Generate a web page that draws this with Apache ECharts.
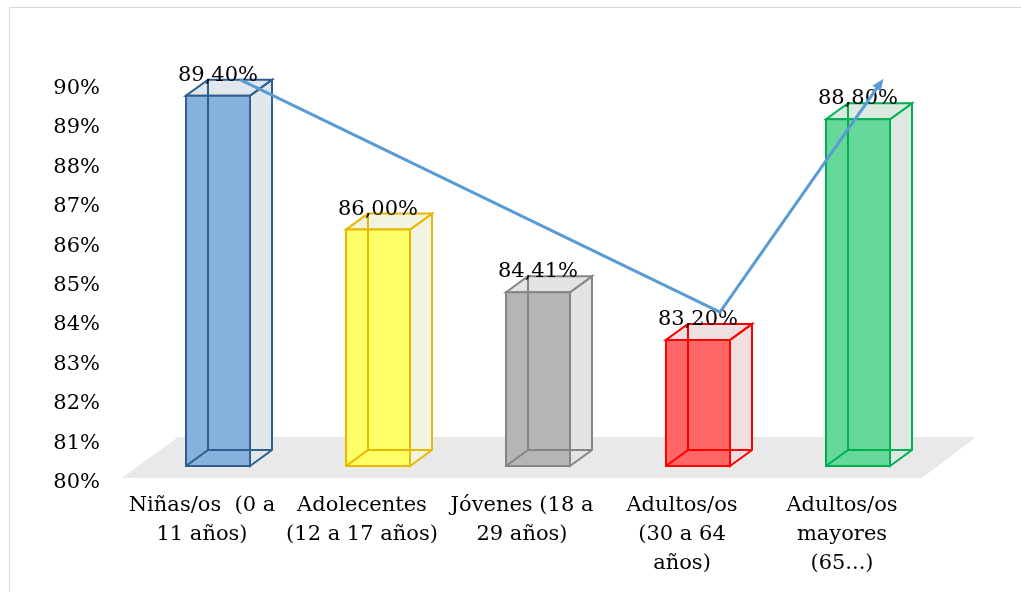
<!DOCTYPE html>
<html>
<head>
<meta charset="utf-8">
<script src="https://cdn.jsdelivr.net/npm/echarts@6/dist/echarts.min.js"></script>
<style>
  html, body { margin: 0; padding: 0; background: #fff; }
  #chart { width: 1021px; height: 592px; }
</style>
</head>
<body>
<div id="chart"></div>
<script>
const categories = [
  "Niñas/os  (0 a\n11 años)",
  "Adolecentes\n(12 a 17 años)",
  "Jóvenes (18 a\n29 años)",
  "Adultos/os\n(30 a 64\naños)",
  "Adultos/os\nmayores\n(65...)",
];
const values = [89.4, 86.0, 84.41, 83.2, 88.8];
// trend line only touches the 1st, 4th and 5th group
const trendValues = [89.4, null, null, 83.5, 89.3];
const yMin = 80;
const yMax = 90;

const frontColors = ["#86b1dd", "#ffff66", "#b5b5b5", "#ff6666", "#66d899"];
const sideColors = ["#e2e7ee", "#f3f3e2", "#e3e3e3", "#f0dfe0", "#dbe9e1"];
const edgeColors = ["#2f5f8f", "#e6b800", "#858585", "#ff0000", "#00b050"];

const font = '"DejaVu Serif", "Liberation Serif", serif';
const dx = 22;
const dy = -16;

function fmt(v) {
  return v.toFixed(2).replace(".", ",") + "%";
}

function renderBox(params, api) {
  const i = params.dataIndex;
  const base = api.coord([api.value(0), yMin]);
  const top = api.coord([api.value(0), api.value(1)]);
  const w = api.size([1, 0])[0] * 0.4;
  const x0 = base[0] - w / 2;
  const x1 = base[0] + w / 2;
  const yb = base[1];
  const yt = top[1];
  const edge = { stroke: edgeColors[i], lineWidth: 2 };
  return {
    type: "group",
    children: [
      {
        type: "polygon",
        shape: { points: [[x1, yb], [x1 + dx, yb + dy], [x1 + dx, yt + dy], [x1, yt]] },
        style: Object.assign({ fill: sideColors[i] }, edge),
      },
      {
        type: "polygon",
        shape: { points: [[x0, yt], [x0 + dx, yt + dy], [x1 + dx, yt + dy], [x1, yt]] },
        style: Object.assign({ fill: sideColors[i] }, edge),
      },
      {
        type: "rect",
        shape: { x: x0, y: yt, width: w, height: yb - yt },
        style: Object.assign({ fill: frontColors[i] }, edge),
      },
      // hidden edges seen through the faces
      {
        type: "polyline",
        shape: { points: [[x0, yb], [x0 + dx, yb + dy], [x1 + dx, yb + dy]] },
        style: Object.assign({ fill: null }, edge),
      },
      {
        type: "line",
        shape: { x1: x0 + dx, y1: yb + dy, x2: x0 + dx, y2: yt + dy },
        style: edge,
      },
      {
        type: "text",
        style: {
          text: fmt(api.value(1)),
          x: base[0],
          y: yt + dy + 6,
          align: "center",
          verticalAlign: "bottom",
          fontFamily: font,
          fontSize: 21,
          fill: "#000",
        },
      },
    ],
  };
}

const chart = echarts.init(document.getElementById("chart"));

const trendData = trendValues.map((v, i) =>
  i === trendValues.length - 1
    ? { value: v, symbol: "triangle", symbolSize: [10, 12], symbolRotate: -35 }
    : v
);

chart.setOption({
  animation: false,
  backgroundColor: "#fff",
  graphic: [
    {
      type: "rect",
      shape: { x: 9.5, y: 7.5, width: 1030, height: 600 },
      style: { fill: null, stroke: "#d9d9d9", lineWidth: 1 },
      z: 0,
    },
    {
      type: "polygon",
      shape: { points: [[122, 478], [178, 437], [976, 437], [922, 478]] },
      style: { fill: "#e9e9e9" },
      z: 0,
    },
  ],
  grid: [
    { left: 138, right: 83, top: 72, bottom: 126 },
    { left: 138 + dx, right: 83 - dx, top: 72 + dy, bottom: 126 - dy },
  ],
  xAxis: [
    {
      type: "category",
      data: categories,
      gridIndex: 0,
      axisLine: { show: false },
      axisTick: { show: false },
      axisLabel: {
        interval: 0,
        margin: 25,
        fontFamily: font,
        fontSize: 21,
        lineHeight: 29,
        color: "#000",
        padding: [0, 32, 0, 0],
      },
    },
    {
      type: "category",
      data: categories,
      gridIndex: 1,
      show: false,
    },
  ],
  yAxis: [
    {
      type: "value",
      gridIndex: 0,
      min: yMin,
      max: yMax,
      interval: 1,
      splitLine: { show: false },
      axisLine: { show: false },
      axisTick: { show: false },
      axisLabel: {
        margin: 38,
        fontFamily: font,
        fontSize: 21,
        color: "#000",
        verticalAlign: "top",
        padding: [6, 0, 0, 0],
        formatter: (v) => v + "%",
      },
    },
    {
      type: "value",
      gridIndex: 1,
      min: yMin,
      max: yMax,
      show: false,
    },
  ],
  series: [
    {
      type: "custom",
      xAxisIndex: 0,
      yAxisIndex: 0,
      renderItem: renderBox,
      clip: false,
      data: values.map((v, i) => [i, v]),
      encode: { x: 0, y: 1 },
      z: 2,
    },
    {
      type: "line",
      xAxisIndex: 1,
      yAxisIndex: 1,
      data: trendData,
      connectNulls: true,
      symbol: "none",
      lineStyle: { color: "#5b9bd5", width: 3 },
      itemStyle: { color: "#5b9bd5" },
      z: 3,
    },
  ],
});

window.addEventListener("resize", () => chart.resize());
</script>
</body>
</html>
